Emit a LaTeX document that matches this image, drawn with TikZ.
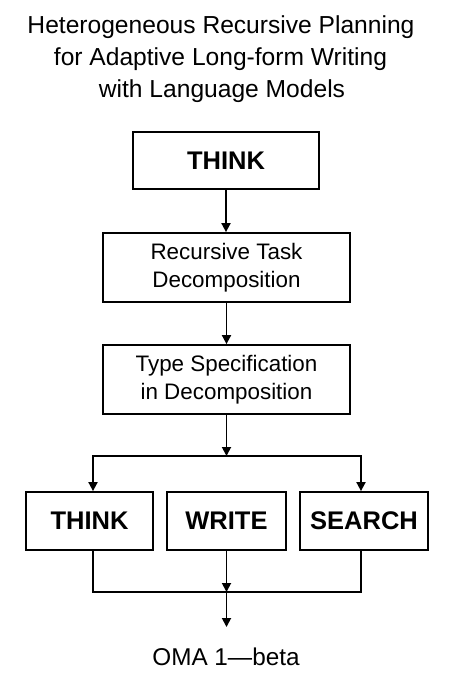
\documentclass[tikz,border=0pt]{standalone}
\usepackage{fontspec}
\setmainfont{Liberation Sans}
\usetikzlibrary{arrows.meta}
\begin{document}
\begin{tikzpicture}[x=1pt,y=-1pt,
  box/.style={draw=black,line width=1.8pt,inner sep=0pt,align=center},
  lbl/.style={font=\fontsize{22.4}{28}\selectfont},
  bold/.style={font=\fontsize{25.5}{28}\selectfont\bfseries},
  ttl/.style={font=\fontsize{24.6}{32}\selectfont,anchor=base,inner sep=0pt},
  conn/.style={line width=1.8pt,draw=black},
  arr/.style={conn,-{Triangle[length=9pt,width=9pt]}}]
\useasboundingbox (0,0) rectangle (453,680);
\fill[white] (0,0) rectangle (453,680);
\node[ttl] (title1) at (221,33) {Heterogeneous Recursive Planning};
\node[ttl] (title2) at (220.5,65) {for Adaptive Long-form Writing};
\node[ttl] (title3) at (222,97) {with Language Models};

\node[box,bold,minimum width=186pt,minimum height=57pt] (think) at (226,160.5) {THINK};
\node[box,lbl,minimum width=247pt,minimum height=69pt] (rec) at (226.5,267.5) {Recursive Task\\Decomposition};
\node[box,lbl,minimum width=247pt,minimum height=69pt] (type) at (226.5,379.5) {Type Specification\\in Decomposition};
\node[box,bold,minimum width=127pt,minimum height=58pt] (think2) at (89.5,521) {THINK};
\node[box,bold,minimum width=119pt,minimum height=58pt] (write) at (226.5,521) {WRITE};
\node[box,bold,minimum width=128pt,minimum height=58pt] (search) at (364,521) {SEARCH};
\node[font=\fontsize{24.3}{28}\selectfont,anchor=base,inner sep=0pt] (out) at (226,665) {OMA 1—beta};

\coordinate (j1) at (226.5,456);
\coordinate (jl) at (93,456);
\coordinate (jr) at (361,456);
\coordinate (j2) at (226.5,592);
\coordinate (bl) at (93,592);
\coordinate (br) at (361,592);
\coordinate (end) at (226.5,627);

\draw[arr] (think.south) -- (think.south |- rec.north);
\draw[arr] (rec.south) -- (type.north);
\draw[arr] (type.south) -- (j1);
\draw[arr] (j1) -- (jl) -- (jl |- think2.north);
\draw[arr] (j1) -- (jr) -- (jr |- search.north);
\draw[conn] (bl |- think2.south) -- (bl) -- (br) -- (br |- search.south);
\draw[arr] (write.south) -- (j2);
\draw[arr] (j2) -- (end);
\end{tikzpicture}
\end{document}
